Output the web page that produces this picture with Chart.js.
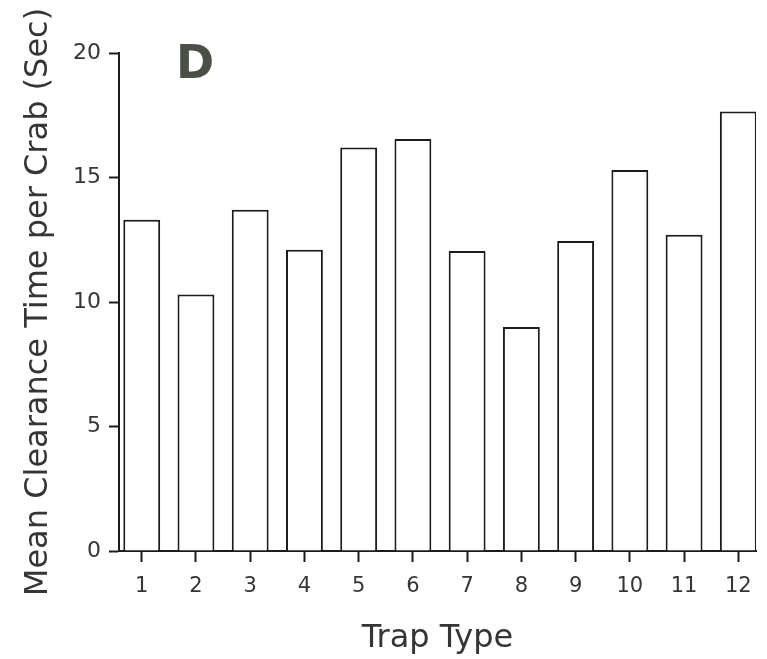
<!DOCTYPE html>
<html>
<head>
<meta charset="utf-8">
<script src="https://cdn.jsdelivr.net/npm/chart.js@4/dist/chart.umd.min.js"></script>
<style>
  html, body { margin: 0; padding: 0; background: #fff; }
  #wrap { width: 767px; height: 659px; }
</style>
</head>
<body>
<div id="wrap"><canvas id="chart"></canvas></div>
<script>
const trapTypes = [1, 2, 3, 4, 5, 6, 7, 8, 9, 10, 11, 12]
const clearanceTime = [13.3, 10.3, 13.7, 12.1, 16.2, 16.55, 12.05, 9.0, 12.45, 15.3, 12.7, 17.65]
const yTicks = [0, 5, 10, 15, 20]
const panelLabel = 'D'

const ink = '#1c1c1c'
const textInk = '#353535'

const panelPlugin = {
    id: 'panelLabel',
    afterDraw(chart) {
        const ctx = chart.ctx
        const area = chart.chartArea
        ctx.save()
        ctx.fillStyle = '#4b5046'
        ctx.font = 'bold 46px "DejaVu Sans"'
        ctx.textBaseline = 'alphabetic'
        ctx.fillText(panelLabel, area.left + 57, area.top + 25)
        ctx.restore()
    },
}

const dataClear = {
    datasets: [
        {
            label: 'Mean Clearance Time per Crab (Sec)',
            data: trapTypes.map((t, i) => ({ x: t, y: clearanceTime[i] })),
            backgroundColor: '#ffffff',
            borderColor: ink,
            borderWidth: 2,
            barPercentage: 0.68,
            categoryPercentage: 1,
        },
    ],
}

const configClear = {
    type: 'bar',
    data: dataClear,
    plugins: [panelPlugin],
    options: {
        responsive: true,
        maintainAspectRatio: false,
        animation: false,
        layout: { padding: { top: 53, right: 11, left: 0, bottom: 0 } },
        plugins: {
            legend: { display: false },
            tooltip: { enabled: false },
        },
        scales: {
            x: {
                type: 'linear',
                offset: false,
                min: 0.581,
                max: 12.326,
                afterBuildTicks: s => { s.ticks = trapTypes.map(v => ({ value: v })) },
                afterFit: s => { s.height = 108 },
                border: { display: true, color: ink, width: 2 },
                grid: { offset: false, drawOnChartArea: false, drawTicks: true, tickLength: 11, tickColor: ink, tickWidth: 2 },
                ticks: {
                    color: textInk,
                    font: { family: '"DejaVu Sans"', size: 21 },
                    padding: 12,
                    maxRotation: 0,
                    autoSkip: false,
                },
                title: {
                    display: true,
                    text: 'Trap Type',
                    color: textInk,
                    font: { family: '"DejaVu Sans"', size: 32 },
                    padding: { top: 0, bottom: 1 },
                },
            },
            y: {
                min: 0,
                max: 20,
                afterBuildTicks: s => { s.ticks = yTicks.map(v => ({ value: v })) },
                afterFit: s => { s.width = 119 },
                border: { display: true, color: ink, width: 2 },
                grid: { drawOnChartArea: false, drawTicks: true, tickLength: 10, tickColor: ink, tickWidth: 2 },
                ticks: {
                    color: textInk,
                    font: { family: '"DejaVu Sans"', size: 22 },
                    padding: 8,
                },
                title: {
                    display: true,
                    text: 'Mean Clearance Time per Crab (Sec)',
                    color: textInk,
                    font: { family: '"DejaVu Sans"', size: 32 },
                    padding: { top: 19, bottom: 0 },
                },
            },
        },
    },
}

const canvasClear = document.getElementById('chart')
const chartClear = new Chart(canvasClear, configClear)
</script>
</body>
</html>
